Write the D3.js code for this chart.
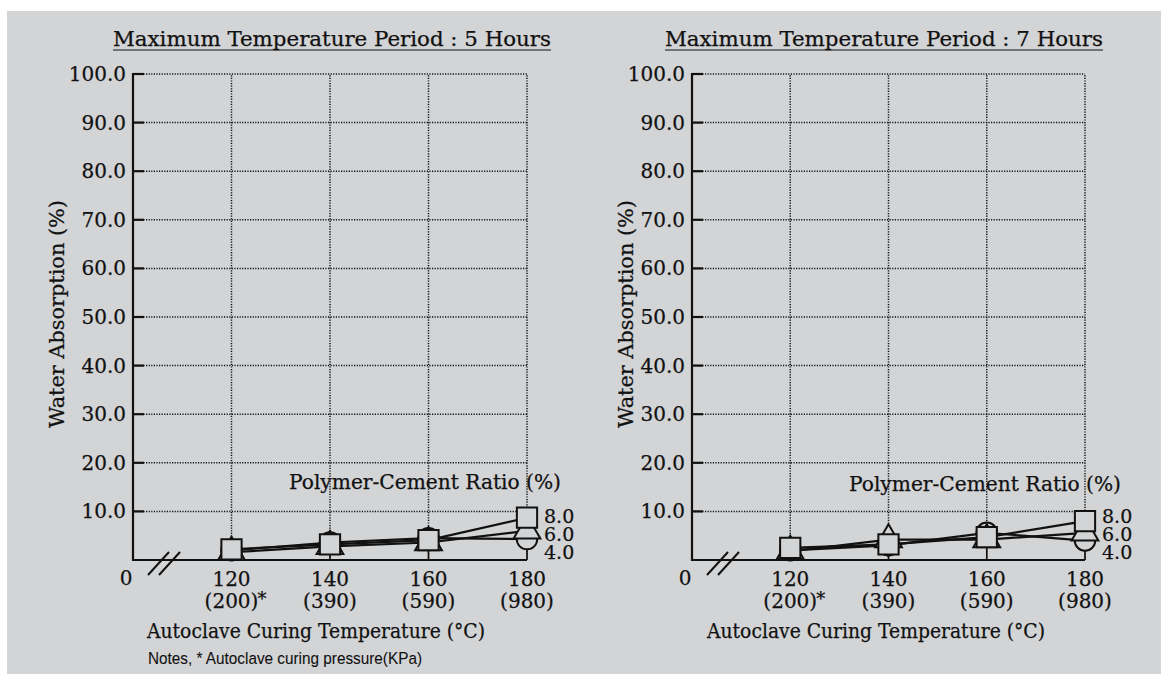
<!DOCTYPE html>
<html>
<head>
<meta charset="utf-8">
<script src="https://cdn.jsdelivr.net/npm/d3@7"></script>
<style>
  body { margin: 0; background: #fff; }
  svg { display: block; }
  text { font-family: "DejaVu Serif", "Liberation Serif", serif; fill: #111; stroke: #111; stroke-width: 0.25px; }
</style>
</head>
<body>
<div id="chart"></div>
<script>
// data
const temps = [120, 140, 160, 180];
const pressures = ["(200)", "(390)", "(590)", "(980)"];
const yTicks = [10, 20, 30, 40, 50, 60, 70, 80, 90, 100];
const ratios = ["8.0", "6.0", "4.0"];
const titles = ["Maximum Temperature Period : 5 Hours", "Maximum Temperature Period : 7 Hours"];

// 5 hours
const sq5 = [2.2, 3.2, 4.1, 8.7];
const tri5 = [1.6, 2.8, 3.6, 6.0];
const cir5 = [2.0, 3.6, 4.5, 4.3];
// 7 hours
const sq7 = [2.5, 3.2, 4.7, 8.0];
const tri7 = [1.8, 4.2, 4.2, 5.6];
const cir7 = [2.0, 3.0, 5.6, 4.0];

const W = 1161, H = 674;
const bg = "#d3d4d6";

const svg = d3.select("#chart").append("svg")
  .attr("width", W).attr("height", H);

svg.append("rect")
  .attr("x", 7).attr("y", 11)
  .attr("width", W - 7).attr("height", H - 11)
  .attr("fill", bg);

const panels = [
  { title: titles[0], series: [cir5, tri5, sq5], x0: 133, x1: 527, titleX: 332, yTitleX: 57,
    legendX: 425, legendY: 489, xTitleX: 316 },
  { title: titles[1], series: [cir7, tri7, sq7], x0: 692, x1: 1085, titleX: 884, yTitleX: 626,
    legendX: 985, legendY: 491, xTitleX: 876 }
];

const shapes = [d3.symbolCircle, d3.symbolTriangle, d3.symbolSquare];
const sizes = [330, 310, 410];

panels.forEach(function(p) {
  const x = d3.scaleLinear().domain([100, 180]).range([p.x0, p.x1]);
  const y = d3.scaleLinear().domain([0, 100]).range([560, 74]);
  const g = svg.append("g");

  // title + underline
  g.append("text")
    .attr("x", p.titleX).attr("y", 46)
    .attr("text-anchor", "middle")
    .attr("font-size", 20.5)
    .attr("textLength", 438).attr("lengthAdjust", "spacingAndGlyphs")
    .text(p.title);
  g.append("line")
    .attr("x1", p.titleX - 219).attr("x2", p.titleX + 219)
    .attr("y1", 50).attr("y2", 50)
    .attr("stroke", "#111").attr("stroke-width", 1.2);

  // dotted grid
  g.selectAll(".hgrid").data(yTicks).enter().append("line")
    .attr("x1", x(100)).attr("x2", x(180))
    .attr("y1", d => y(d)).attr("y2", d => y(d))
    .attr("stroke", "#111").attr("stroke-width", 1.5)
    .attr("stroke-dasharray", "1.2,1.4");
  g.selectAll(".vgrid").data(temps).enter().append("line")
    .attr("x1", d => x(d)).attr("x2", d => x(d))
    .attr("y1", y(0)).attr("y2", y(100))
    .attr("stroke", "#111").attr("stroke-width", 1.5)
    .attr("stroke-dasharray", "1.2,1.4");
  // solid stems near baseline
  g.selectAll(".stem").data(temps).enter().append("line")
    .attr("x1", d => x(d)).attr("x2", d => x(d))
    .attr("y1", y(0)).attr("y2", y(0) - 14)
    .attr("stroke", "#111").attr("stroke-width", 1.6);

  // axes
  g.append("line")
    .attr("x1", x(100)).attr("x2", x(100))
    .attr("y1", y(100) - 1).attr("y2", y(0) + 1)
    .attr("stroke", "#111").attr("stroke-width", 2.2);
  g.append("line")
    .attr("x1", x(100)).attr("x2", x(180))
    .attr("y1", y(0)).attr("y2", y(0))
    .attr("stroke", "#111").attr("stroke-width", 2.2);
  g.selectAll(".ytick").data(yTicks).enter().append("line")
    .attr("x1", x(100)).attr("x2", x(100) + 11)
    .attr("y1", d => y(d)).attr("y2", d => y(d))
    .attr("stroke", "#111").attr("stroke-width", 2.2);
  g.selectAll(".ylab").data(yTicks).enter().append("text")
    .attr("x", x(100) - 7).attr("y", d => y(d) + 7)
    .attr("text-anchor", "end").attr("font-size", 20)
    .text(d => d.toFixed(1));
  g.append("text")
    .attr("x", x(100) - 7).attr("y", y(0) + 25)
    .attr("text-anchor", "middle").attr("font-size", 20)
    .text("0");

  // axis break
  [0, 11].forEach(function(dx) {
    g.append("line")
      .attr("x1", x(100) + 15 + dx).attr("y1", y(0) + 15)
      .attr("x2", x(100) + 36 + dx).attr("y2", y(0) - 8)
      .attr("stroke", "#111").attr("stroke-width", 2);
  });

  // x labels
  g.selectAll(".xlab").data(temps).enter().append("text")
    .attr("x", d => x(d)).attr("y", 586)
    .attr("text-anchor", "middle").attr("font-size", 20)
    .text(d => d);
  g.selectAll(".plab").data(pressures).enter().append("text")
    .attr("x", (d, i) => x(temps[i])).attr("y", 608)
    .attr("text-anchor", "middle").attr("font-size", 20)
    .text(d => d);
  g.append("text")
    .attr("x", x(temps[0]) + 26).attr("y", 605)
    .attr("font-size", 18)
    .text("*");

  // axis titles
  g.append("text")
    .attr("x", p.xTitleX).attr("y", 638)
    .attr("text-anchor", "middle").attr("font-size", 20)
    .attr("textLength", 338).attr("lengthAdjust", "spacingAndGlyphs")
    .text("Autoclave Curing Temperature (°C)");
  g.append("text")
    .attr("transform", `translate(${p.yTitleX + 7}, 314) rotate(-90)`)
    .attr("text-anchor", "middle").attr("font-size", 20)
    .attr("textLength", 228).attr("lengthAdjust", "spacingAndGlyphs")
    .text("Water Absorption (%)");

  // legend title
  g.append("text")
    .attr("x", p.legendX).attr("y", p.legendY)
    .attr("text-anchor", "middle").attr("font-size", 20)
    .attr("textLength", 272).attr("lengthAdjust", "spacingAndGlyphs")
    .text("Polymer-Cement Ratio (%)");

  // series lines
  const line = d3.line().x((d, i) => x(temps[i])).y(d => y(d));
  p.series.forEach(function(s) {
    g.append("path")
      .attr("d", line(s))
      .attr("fill", "none").attr("stroke", "#111").attr("stroke-width", 2.2);
  });
  // markers: circle, triangle, square on top
  p.series.forEach(function(s, k) {
    g.selectAll(".m" + k).data(s).enter().append("path")
      .attr("transform", (d, i) => `translate(${x(temps[i])},${y(d)})`)
      .attr("d", d3.symbol().type(shapes[k]).size(sizes[k]))
      .attr("fill", bg).attr("stroke", "#111").attr("stroke-width", 2);
  });

  // series labels
  g.selectAll(".rlab").data(ratios).enter().append("text")
    .attr("x", x(180) + 17).attr("y", (d, i) => y(0) - 37 + i * 18)
    .attr("font-size", 19)
    .text(d => d);
});

svg.append("text")
  .attr("x", 148).attr("y", 664)
  .attr("font-size", 17)
  .style("font-family", "'Liberation Sans', Arial, sans-serif")
  .style("stroke-width", "0.1px")
  .attr("textLength", 274).attr("lengthAdjust", "spacingAndGlyphs")
  .text("Notes, * Autoclave curing pressure(KPa)");
</script>
</body>
</html>
